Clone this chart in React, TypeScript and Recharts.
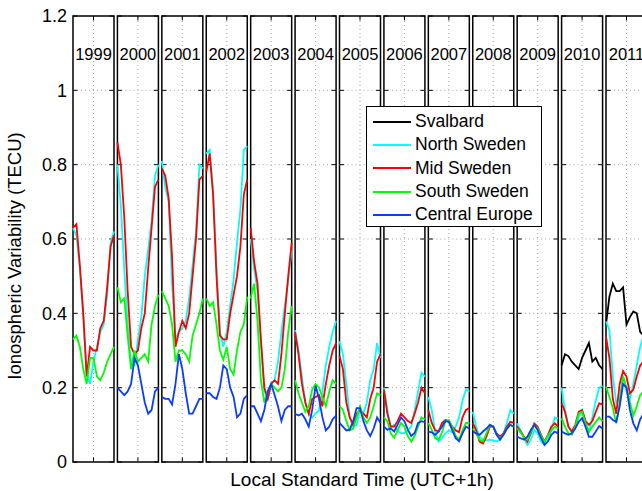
import React from 'react';
import { LineChart, Line, XAxis, YAxis, ReferenceArea, ReferenceLine } from 'recharts';

const years = ['1999', '2000', '2001', '2002', '2003', '2004', '2005', '2006', '2007', '2008', '2009', '2010', '2011'];
const hours = [0, 2, 4, 6, 8, 10, 12, 14, 16, 18, 20, 22, 24];
const yTicks = [0, 0.2, 0.4, 0.6, 0.8, 1, 1.2];

// one row per year, values at the hours above (null = no data that year)
const svalbard: (number[] | null)[] = [
  null, null, null, null, null, null, null, null, null, null, null,
  [0.26, 0.29, 0.285, 0.27, 0.26, 0.25, 0.28, 0.3, 0.32, 0.27, 0.28, 0.26, 0.25],
  [0.37, 0.445, 0.48, 0.46, 0.46, 0.47, 0.37, 0.39, 0.405, 0.4, 0.35, 0.34, 0.33],
];

const northSweden: (number[] | null)[] = [
  [0.63, 0.61, 0.52, 0.39, 0.24, 0.21, 0.27, 0.31, 0.35, 0.37, 0.45, 0.59, 0.62],
  [0.8, 0.69, 0.52, 0.37, 0.26, 0.26, 0.33, 0.39, 0.5, 0.57, 0.65, 0.77, 0.8],
  [0.81, 0.74, 0.7, 0.48, 0.33, 0.35, 0.36, 0.38, 0.44, 0.53, 0.62, 0.8, 0.79],
  [0.83, 0.84, 0.73, 0.53, 0.35, 0.31, 0.35, 0.42, 0.49, 0.59, 0.68, 0.84, 0.85],
  [0.6, 0.52, 0.46, 0.32, 0.19, 0.17, 0.21, 0.22, 0.27, 0.35, 0.42, 0.49, 0.57],
  [0.355, 0.3, 0.23, 0.16, 0.13, 0.12, 0.13, 0.14, 0.19, 0.26, 0.31, 0.35, 0.38],
  [0.325, 0.29, 0.21, 0.12, 0.095, 0.1, 0.14, 0.13, 0.16, 0.22, 0.25, 0.32, 0.28],
  [0.2, 0.14, 0.095, 0.1, 0.085, 0.077, 0.078, 0.085, 0.095, 0.14, 0.19, 0.24, 0.23],
  [0.175, 0.14, 0.08, 0.055, 0.065, 0.077, 0.085, 0.08, 0.095, 0.12, 0.165, 0.195, 0.19],
  [0.135, 0.095, 0.068, 0.06, 0.058, 0.06, 0.058, 0.055, 0.06, 0.077, 0.105, 0.14, 0.13],
  [0.104, 0.086, 0.064, 0.046, 0.06, 0.086, 0.077, 0.055, 0.046, 0.06, 0.086, 0.12, 0.117],
  [0.2, 0.14, 0.095, 0.08, 0.095, 0.12, 0.14, 0.11, 0.077, 0.12, 0.165, 0.2, 0.205],
  [0.378, 0.355, 0.23, 0.16, 0.17, 0.23, 0.19, 0.17, 0.21, 0.26, 0.31, 0.34, 0.36],
];

const midSweden: (number[] | null)[] = [
  [0.63, 0.64, 0.53, 0.4, 0.23, 0.31, 0.3, 0.3, 0.36, 0.38, 0.47, 0.58, 0.61],
  [0.86, 0.8, 0.66, 0.46, 0.31, 0.29, 0.3, 0.36, 0.4, 0.52, 0.63, 0.74, 0.76],
  [0.79, 0.77, 0.71, 0.55, 0.31, 0.35, 0.38, 0.36, 0.4, 0.5, 0.6, 0.76, 0.77],
  [0.78, 0.83, 0.72, 0.5, 0.34, 0.33, 0.33, 0.4, 0.45, 0.5, 0.58, 0.72, 0.76],
  [0.63, 0.54, 0.48, 0.33, 0.2, 0.17, 0.21, 0.22, 0.21, 0.29, 0.4, 0.5, 0.59],
  [0.35, 0.29, 0.21, 0.16, 0.13, 0.17, 0.175, 0.18, 0.15, 0.21, 0.26, 0.3, 0.32],
  [0.285, 0.25, 0.16, 0.12, 0.1, 0.13, 0.14, 0.13, 0.12, 0.17, 0.2, 0.27, 0.29],
  [0.195, 0.13, 0.095, 0.095, 0.11, 0.13, 0.12, 0.11, 0.105, 0.13, 0.16, 0.2, 0.185],
  [0.14, 0.105, 0.086, 0.082, 0.105, 0.113, 0.11, 0.095, 0.085, 0.08, 0.12, 0.14, 0.145],
  [0.105, 0.085, 0.055, 0.05, 0.068, 0.095, 0.095, 0.077, 0.068, 0.077, 0.095, 0.108, 0.105],
  [0.095, 0.082, 0.068, 0.055, 0.077, 0.104, 0.095, 0.073, 0.055, 0.073, 0.095, 0.104, 0.095],
  [0.158, 0.135, 0.095, 0.082, 0.1, 0.135, 0.14, 0.11, 0.1, 0.11, 0.135, 0.158, 0.155],
  [0.337, 0.28, 0.17, 0.13, 0.21, 0.245, 0.23, 0.185, 0.195, 0.23, 0.26, 0.27, 0.28],
];

const southSweden: (number[] | null)[] = [
  [0.33, 0.34, 0.31, 0.25, 0.21, 0.28, 0.28, 0.23, 0.22, 0.24, 0.27, 0.29, 0.31],
  [0.47, 0.43, 0.44, 0.34, 0.25, 0.3, 0.27, 0.28, 0.29, 0.27, 0.37, 0.42, 0.45],
  [0.46, 0.44, 0.42, 0.37, 0.27, 0.3, 0.3, 0.29, 0.27, 0.34, 0.37, 0.4, 0.44],
  [0.44, 0.42, 0.43, 0.37, 0.3, 0.275, 0.31, 0.25, 0.235, 0.3, 0.35, 0.37, 0.445],
  [0.44, 0.48, 0.38, 0.22, 0.16, 0.19, 0.21, 0.2, 0.19, 0.2, 0.25, 0.35, 0.42],
  [0.22, 0.185, 0.16, 0.135, 0.15, 0.195, 0.21, 0.2, 0.175, 0.15, 0.19, 0.22, 0.21],
  [0.15, 0.14, 0.11, 0.085, 0.09, 0.12, 0.15, 0.12, 0.105, 0.12, 0.15, 0.185, 0.18],
  [0.12, 0.11, 0.077, 0.065, 0.085, 0.105, 0.095, 0.07, 0.055, 0.07, 0.095, 0.12, 0.115],
  [0.105, 0.087, 0.064, 0.06, 0.08, 0.11, 0.113, 0.095, 0.07, 0.06, 0.085, 0.105, 0.105],
  [0.09, 0.077, 0.06, 0.055, 0.077, 0.1, 0.095, 0.073, 0.064, 0.073, 0.09, 0.1, 0.095],
  [0.09, 0.08, 0.065, 0.06, 0.08, 0.1, 0.09, 0.07, 0.055, 0.07, 0.085, 0.095, 0.09],
  [0.118, 0.095, 0.077, 0.073, 0.095, 0.13, 0.135, 0.104, 0.082, 0.095, 0.108, 0.12, 0.11],
  [0.203, 0.175, 0.145, 0.104, 0.16, 0.23, 0.2, 0.16, 0.125, 0.15, 0.18, 0.19, 0.2],
];

const centralEurope: (number[] | null)[] = [
  null,
  [0.2, 0.19, 0.18, 0.19, 0.21, 0.28, 0.26, 0.21, 0.16, 0.13, 0.14, 0.19, 0.2],
  [0.175, 0.17, 0.17, 0.155, 0.21, 0.29, 0.25, 0.185, 0.13, 0.13, 0.15, 0.17, 0.17],
  [0.185, 0.185, 0.175, 0.17, 0.2, 0.26, 0.25, 0.2, 0.175, 0.12, 0.13, 0.17, 0.18],
  [0.15, 0.15, 0.13, 0.11, 0.14, 0.19, 0.21, 0.18, 0.15, 0.11, 0.14, 0.15, 0.15],
  [0.13, 0.125, 0.13, 0.115, 0.095, 0.14, 0.205, 0.17, 0.12, 0.085, 0.095, 0.115, 0.125],
  [0.105, 0.095, 0.085, 0.087, 0.11, 0.145, 0.145, 0.11, 0.085, 0.07, 0.09, 0.12, 0.105],
  [0.095, 0.087, 0.09, 0.082, 0.1, 0.12, 0.11, 0.087, 0.07, 0.078, 0.105, 0.11, 0.107],
  [0.082, 0.08, 0.073, 0.082, 0.095, 0.11, 0.108, 0.086, 0.064, 0.056, 0.077, 0.095, 0.09],
  [0.082, 0.077, 0.073, 0.082, 0.09, 0.1, 0.095, 0.073, 0.06, 0.073, 0.09, 0.1, 0.095],
  [0.068, 0.064, 0.06, 0.068, 0.086, 0.1, 0.086, 0.064, 0.046, 0.055, 0.073, 0.082, 0.077],
  [0.082, 0.077, 0.073, 0.077, 0.09, 0.108, 0.118, 0.095, 0.068, 0.068, 0.082, 0.097, 0.09],
  [0.122, 0.122, 0.113, 0.108, 0.15, 0.21, 0.2, 0.14, 0.104, 0.085, 0.115, 0.13, 0.14],
];

const series = [
  { key: 'svalbard', name: 'Svalbard', color: '#000000', values: svalbard },
  { key: 'north', name: 'North Sweden', color: '#00ffff', values: northSweden },
  { key: 'mid', name: 'Mid Sweden', color: '#ff0000', values: midSweden },
  { key: 'south', name: 'South Sweden', color: '#00ff00', values: southSweden },
  { key: 'central', name: 'Central Europe', color: '#0a3cff', values: centralEurope },
];

// each year panel is 24h wide, plus a 2h gap before the next one
const SPAN = 26;
const XMAX = years.length * SPAN - 2;

const data: Record<string, number | null>[] = [];
years.forEach((_, i) => {
  hours.forEach((h, j) => {
    const row: Record<string, number | null> = { x: i * SPAN + h };
    series.forEach((s) => {
      const v = s.values[i];
      row[s.key] = v ? v[j] : null;
    });
    data.push(row);
  });
  if (i < years.length - 1) {
    const gap: Record<string, number | null> = { x: i * SPAN + 25 };
    series.forEach((s) => (gap[s.key] = null));
    data.push(gap);
  }
});

const gridColor = '#a8a8a8';

function panelDecor() {
  const out: React.ReactNode[] = [];
  years.forEach((yr, i) => {
    const a = i * SPAN;
    const b = a + 24;
    yTicks.slice(1, -1).forEach((v) => {
      out.push(
        <ReferenceLine key={`g${i}-${v}`} segment={[{ x: a, y: v }, { x: b, y: v }]} stroke={gridColor} strokeDasharray="1 3" strokeWidth={1} />
      );
    });
    out.push(<ReferenceLine key={`vg${i}`} x={a + 12} stroke={gridColor} strokeDasharray="1 3" strokeWidth={1} />);
    yTicks.forEach((v) => {
      out.push(
        <ReferenceLine key={`tl${i}-${v}`} segment={[{ x: a, y: v }, { x: a + 2.6, y: v }]} stroke="#000" strokeWidth={1} />,
        <ReferenceLine key={`tr${i}-${v}`} segment={[{ x: b - 2.6, y: v }, { x: b, y: v }]} stroke="#000" strokeWidth={1} />
      );
    });
    out.push(
      <ReferenceLine key={`xb${i}`} segment={[{ x: a + 12, y: 0 }, { x: a + 12, y: 0.012 }]} stroke="#000" strokeWidth={1} />,
      <ReferenceLine key={`xt${i}`} segment={[{ x: a + 12, y: 1.188 }, { x: a + 12, y: 1.2 }]} stroke="#000" strokeWidth={1} />,
      <ReferenceArea
        key={`p${i}`}
        x1={a}
        x2={b}
        y1={0}
        y2={1.2}
        fill="none"
        fillOpacity={0}
        stroke="#000"
        strokeWidth={1.5}
        ifOverflow="visible"
        label={{ value: yr, position: 'insideTop', offset: 32, fontSize: 16.5, fill: '#000' }}
      />
    );
  });
  return out;
}

export default function App() {
  return (
    <div
      style={{
        position: 'absolute',
        left: 0,
        top: 0,
        width: 642,
        height: 491,
        overflow: 'hidden',
        background: '#fff',
        fontFamily: '"Liberation Sans", Arial, sans-serif',
      }}
    >
      <LineChart width={700} height={491} data={data} margin={{ top: 16, right: 53, bottom: 0, left: 0 }}>
        <XAxis
          type="number"
          dataKey="x"
          domain={[0, XMAX]}
          ticks={[]}
          tick={false}
          axisLine={false}
          tickLine={false}
          height={29}
          label={{
            content: ({ viewBox }: any) => (
              <text x={362} y={viewBox.y + 24} textAnchor="middle" fontSize={19} fill="#000">
                Local Standard Time (UTC+1h)
              </text>
            ),
          }}
        />
        <YAxis
          type="number"
          domain={[0, 1.2]}
          ticks={yTicks}
          width={73}
          axisLine={false}
          tickLine={false}
          tickSize={6}
          tickMargin={0}
          tick={{ fill: '#000', fontSize: 18 }}
          tickFormatter={(v: number) => String(v)}
          label={{
            content: ({ viewBox }: any) => (
              <text
                x={viewBox.x + 21}
                y={256}
                transform={`rotate(-90, ${viewBox.x + 21}, 256)`}
                textAnchor="middle"
                fontSize={18.5}
                fill="#000"
              >
                Ionospheric Variability (TECU)
              </text>
            ),
          }}
        />
        {panelDecor()}
        {series.map((s) => (
          <Line
            key={s.key}
            dataKey={s.key}
            name={s.name}
            stroke={s.color}
            strokeWidth={1.8}
            dot={false}
            activeDot={false}
            isAnimationActive={false}
            type="linear"
          />
        ))}
      </LineChart>
      <div
        style={{
          position: 'absolute',
          left: 366,
          top: 106,
          width: 176,
          height: 121,
          boxSizing: 'border-box',
          border: '1px solid #000',
          background: '#fff',
          paddingTop: 3,
        }}
      >
        {series.map((s) => (
          <div key={s.key} style={{ display: 'flex', alignItems: 'center', height: 23.3 }}>
            <div style={{ width: 38, height: 0, borderTop: `2px solid ${s.color}`, marginLeft: 6, marginRight: 4 }} />
            <span style={{ fontSize: 17.5, color: '#000', whiteSpace: 'nowrap' }}>{s.name}</span>
          </div>
        ))}
      </div>
    </div>
  );
}
